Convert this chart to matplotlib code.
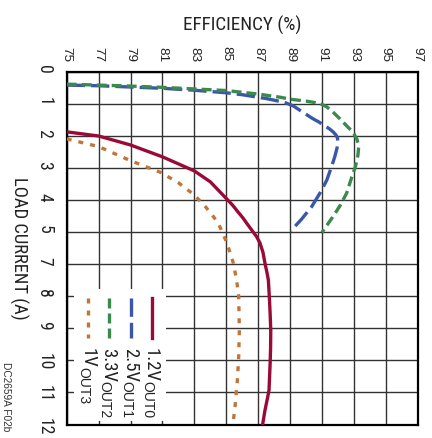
import matplotlib
matplotlib.use("Agg")
import matplotlib.pyplot as plt
from matplotlib.lines import Line2D
from matplotlib.patches import Rectangle
from matplotlib.transforms import IdentityTransform

NARROW = ["Roboto Condensed", "Liberation Sans", "DejaVu Sans"]
REGULAR = ["Liberation Sans", "DejaVu Sans"]
plt.rcParams["font.family"] = NARROW

# axes (the chart is drawn turned a quarter turn clockwise)
eff_ticks = list(range(75, 98, 2))
load_ticks = list(range(12))
# the original skips "6" on the load current axis
load_labels = ["0", "1", "2", "3", "4", "5", "7", "8", "9", "10", "11", "12"]

# 1.2V OUT0
out0_eff = [75.0, 77.0, 79.0, 81.0, 83.0, 84.0, 85.0, 85.4, 85.75, 86.05, 86.29,
            86.6, 86.9, 87.12, 87.3, 87.43, 87.55, 87.64, 87.7, 87.75, 87.79,
            87.78, 87.75, 87.68, 87.6, 87.43, 87.29]
out0_load = [1.86, 1.99, 2.27, 2.64, 3.08, 3.42, 3.94, 4.15, 4.37, 4.55, 4.72,
             4.93, 5.13, 5.34, 5.62, 5.97, 6.25, 6.49, 7.01, 7.53, 8.05,
             8.6, 9.1, 9.93, 10.14, 10.55, 10.97]
# 2.5V OUT1
out1_eff = [75.0, 77.0, 79.0, 81.0, 83.0, 85.0, 86.0, 87.0, 87.5, 88.0, 88.7,
            89.2, 89.6, 90.0, 90.4, 90.8, 91.1, 91.45, 91.7, 91.88, 91.97, 92.0,
            91.95, 91.9, 91.8, 91.6, 91.3, 90.9, 90.35, 89.7, 89.05]
out1_load = [0.40, 0.42, 0.46, 0.50, 0.56, 0.64, 0.70, 0.78, 0.82, 0.87, 0.95,
             1.05, 1.18, 1.31, 1.44, 1.55, 1.65, 1.76, 1.86, 1.96, 2.05, 2.2,
             2.35, 2.45, 2.64, 2.95, 3.37, 3.75, 4.2, 4.6, 4.95]
# 3.3V OUT2
out2_eff = [75.0, 77.0, 79.0, 81.0, 83.0, 85.0, 87.0, 88.4, 89.0, 90.0, 90.5,
            90.9, 91.3, 91.6, 92.1, 92.6, 92.85, 93.0, 93.2, 93.3, 93.28, 93.25,
            93.1, 92.85, 92.55, 92.15, 91.7, 91.35, 91.0]
out2_load = [0.37, 0.40, 0.43, 0.47, 0.52, 0.57, 0.68, 0.78, 0.84, 0.90, 0.94,
             0.98, 1.08, 1.2, 1.44, 1.7, 1.82, 1.92, 2.1, 2.32, 2.45, 2.6,
             2.94, 3.3, 3.77, 4.15, 4.5, 4.75, 5.0]
# 1V OUT3
out3_eff = [75.0, 77.0, 79.0, 80.9, 82.0, 83.0, 83.7, 84.2, 84.5, 84.7, 85.05,
            85.25, 85.45, 85.65, 85.78, 85.82, 85.78, 85.7, 85.55, 85.45]
out3_load = [2.08, 2.32, 2.76, 3.13, 3.45, 3.83, 4.2, 4.51, 4.72, 4.93, 5.34,
             5.65, 5.97, 6.5, 7.0, 8.05, 8.9, 9.6, 10.45, 10.87]

series = [
    ("1.2V", "OUT0", out0_eff, out0_load, "#9a0a36", "-"),
    ("2.5V", "OUT1", out1_eff, out1_load, "#3b57a8", (0, (5.5, 1.8))),
    ("3.3V", "OUT2", out2_eff, out2_load, "#3a8a4e", (0, (3.0, 1.5))),
    ("1V", "OUT3", out3_eff, out3_load, "#c0763a", (0, (1.5, 2.1))),
]

W, H = 432, 438
fig = plt.figure(figsize=(W / 100, H / 100), dpi=100)
# plot box in pixels: x 66.7..417.7, y 72.3..424.5
ax = fig.add_axes([66.7 / W, 1 - 424.5 / H, 351 / W, 352.2 / H])

for name, sub, eff, load, color, ls in series:
    ax.plot(eff, load, color=color, linestyle=ls, linewidth=2.4, zorder=3)

ax.set_xlim(75, 97)
ax.set_ylim(11, 0)
ax.xaxis.tick_top()
ax.set_xticks(eff_ticks, [str(t) for t in eff_ticks], rotation=-90,
              fontsize=9.7, family=REGULAR, color="#222222")
ax.set_yticks(load_ticks, load_labels, rotation=-90, fontsize=12.7,
              color="#222222")
ax.tick_params(axis="x", length=0, pad=7.6)
ax.tick_params(axis="y", length=0, pad=9.6)
ax.grid(True, color="#333333", linewidth=1.0, zorder=1)
ax.set_axisbelow(True)
for s in ax.spines.values():
    s.set_linewidth(1.6)
    s.set_color("black")


def axfrac(px, py):
    return (px - 66.7) / 351, (424.5 - py) / 352.2


# legend, turned like the rest of the chart
x0, y0 = axfrac(74, 289)
x1, y1 = axfrac(166, 421)
ax.add_patch(Rectangle((x0, y1), x1 - x0, y0 - y1, transform=ax.transAxes,
                       facecolor="white", edgecolor="none", zorder=4))
handle_x = [151.7, 130.7, 109.3, 88.3]
main_texts = []
for (name, sub, eff, load, color, ls), hx in zip(series, handle_x):
    hx0, hy0 = axfrac(hx, 297.5)
    hx1, hy1 = axfrac(hx, 337.5)
    ax.add_line(Line2D([hx0, hx1], [hy0, hy1], transform=ax.transAxes,
                       color=color, linestyle=ls, linewidth=2.4, zorder=5))
    t = fig.text(hx - 10.0, H - 348.3, name, transform=IdentityTransform(),
                 rotation=-90, ha="left", va="top", fontsize=13.5,
                 color="#222222", zorder=6)
    main_texts.append((t, sub, hx))

fig.canvas.draw()
for t, sub, hx in main_texts:
    bb = t.get_window_extent()
    fig.text(hx - 11.7, bb.y0 + 1.0, sub, transform=IdentityTransform(),
             rotation=-90, ha="left", va="top", fontsize=10, family=REGULAR,
             color="#222222", zorder=6)

fig.text(242 / W, 1 - 30.7 / H, "EFFICIENCY (%)", ha="center", va="baseline",
         fontsize=13.8, color="#222222")
fig.text(19 / W, 1 - 248.4 / H, "LOAD CURRENT (A)", rotation=-90, ha="center",
         va="center", fontsize=13.4, color="#222222")
fig.text(0.5 / W, 1 - 362 / H, "DC2659A F02b", rotation=-90, ha="left",
         va="top", fontsize=7.3, family=REGULAR, color="#333333")

fig.savefig("out.png", dpi=100)
